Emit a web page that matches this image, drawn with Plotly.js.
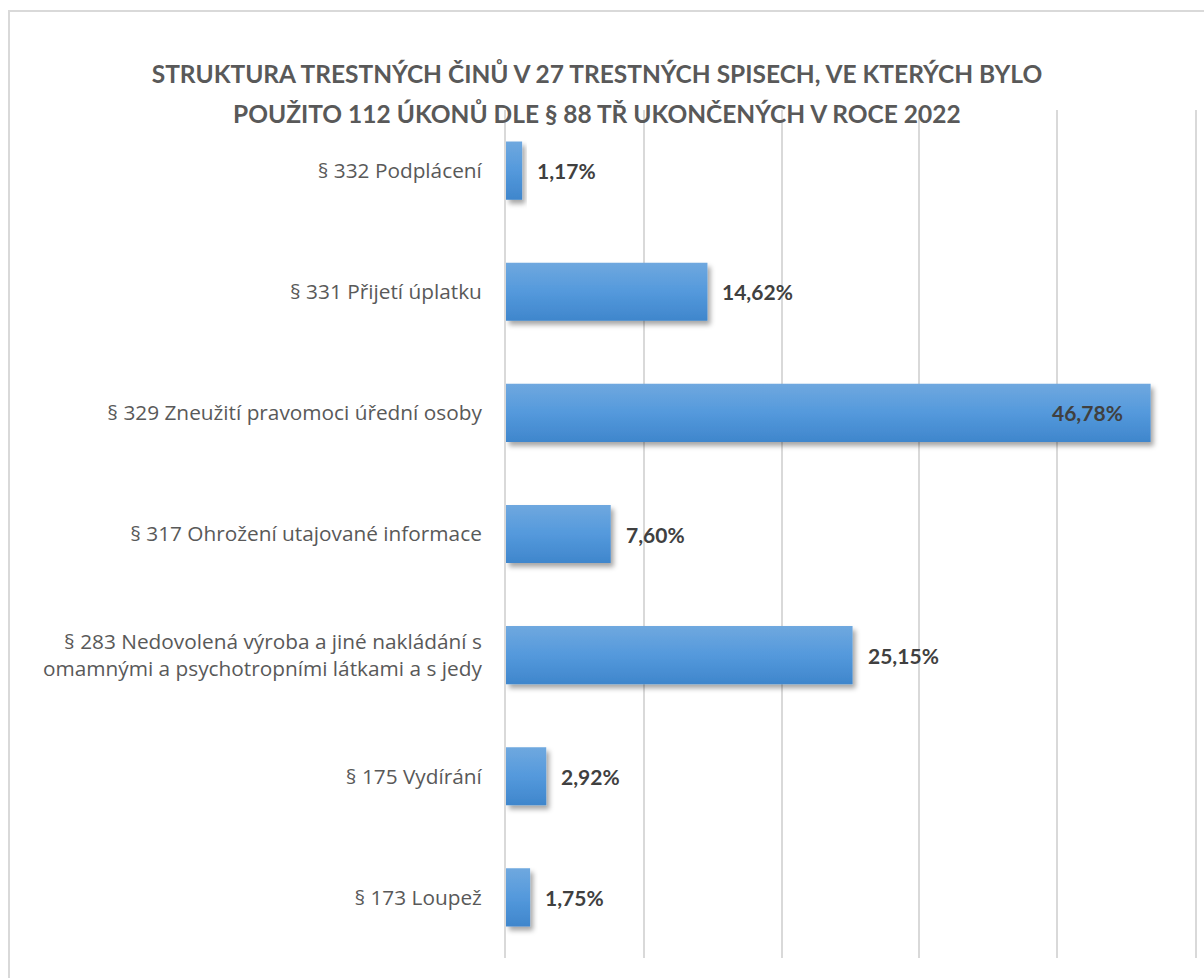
<!DOCTYPE html>
<html>
<head>
<meta charset="utf-8">
<script src="https://cdn.plot.ly/plotly-3.0.1.min.js"></script>
<style>
  html, body { margin: 0; padding: 0; background: #ffffff; overflow: hidden; }
  #frame { position: absolute; left: 8px; top: 10px; width: 1300px; height: 1100px; border: 2px solid #d9d9d9; box-sizing: border-box; }
  #chart { position: absolute; left: 0; top: 0; width: 1204px; height: 978px; }
</style>
</head>
<body>
<div id="frame"></div>
<div id="chart"></div>
<script>
const titleLine1 = 'STRUKTURA TRESTNÝCH ČINŮ V 27 TRESTNÝCH SPISECH, VE KTERÝCH BYLO';
const titleLine2 = 'POUŽITO 112 ÚKONŮ DLE § 88 TŘ UKONČENÝCH V ROCE 2022';

const categories = [
  '§ 332 Podplácení',
  '§ 331 Přijetí úplatku',
  '§ 329 Zneužití pravomoci úřední osoby',
  '§ 317 Ohrožení utajované informace',
  '§ 283 Nedovolená výroba a jiné nakládání s<br>omamnými a psychotropními látkami a s jedy',
  '§ 175 Vydírání',
  '§ 173 Loupež'
];
const shares = [1.17, 14.62, 46.78, 7.60, 25.15, 2.92, 1.75];

const fmt = v => v.toFixed(2).replace('.', ',') + '%';

const W = 1204, H = 978;
const M = { l: 506, r: 9, t: 110, b: 20 };
const plotW = W - M.l - M.r, plotH = H - M.t - M.b;

const trace = {
  type: 'bar',
  orientation: 'h',
  y: categories,
  x: shares,
  width: 0.48,
  marker: { color: '#5499dc' },
  hoverinfo: 'skip'
};

const labelFont = { family: 'Lato, "Open Sans", sans-serif', size: 21, color: '#404040' };
const annotations = shares.map((v, i) => {
  const inside = v > 40;
  return {
    x: v, y: categories[i], xref: 'x', yref: 'y',
    text: '<b>' + fmt(v) + '</b>',
    showarrow: false,
    xanchor: inside ? 'right' : 'left',
    xshift: inside ? -26 : 13,
    font: labelFont
  };
});
annotations.push({
  text: '<b>' + titleLine2 + '</b>',
  xref: 'paper', yref: 'paper',
  x: (597 - M.l) / plotW, y: 1 + (M.t - 113) / plotH,
  xanchor: 'center', yanchor: 'middle',
  showarrow: false,
  font: { family: 'Lato, "Open Sans", sans-serif', size: 24.5, color: '#595959' }
});

const layout = {
  width: W, height: H,
  paper_bgcolor: 'rgba(0,0,0,0)',
  plot_bgcolor: 'rgba(0,0,0,0)',
  margin: M,
  title: {
    text: '<b>' + titleLine1 + '</b>',
    x: 597 / W, xref: 'container', xanchor: 'center',
    y: 1 - 74 / H, yref: 'container', yanchor: 'middle',
    font: { family: 'Lato, "Open Sans", sans-serif', size: 24.5, color: '#595959' }
  },
  xaxis: {
    range: [0, 50], dtick: 10, tick0: 0,
    showgrid: true, gridcolor: '#d9d9d9', gridwidth: 2,
    zeroline: false, showticklabels: false, showline: false, ticks: '', fixedrange: true
  },
  yaxis: {
    autorange: 'reversed',
    showgrid: false, zeroline: false,
    showline: true, mirror: true, linecolor: '#d9d9d9', linewidth: 2,
    ticks: '',
    ticklabelstandoff: 18,
    tickfont: { family: '"Open Sans", Lato, sans-serif', size: 20.8, color: '#595959' },
    fixedrange: true
  },
  annotations: annotations,
  showlegend: false,
  bargap: 0.52
};

Plotly.newPlot('chart', [trace], layout, { displayModeBar: false, staticPlot: true }).then(gd => {
  const svg = gd.querySelector('svg.main-svg');
  const NS = 'http://www.w3.org/2000/svg';
  const defs = document.createElementNS(NS, 'defs');
  defs.innerHTML =
    '<linearGradient id="barGrad" x1="0" y1="0" x2="0" y2="1">' +
    '<stop offset="0%" stop-color="#6fa8df"/>' +
    '<stop offset="50%" stop-color="#5499dc"/>' +
    '<stop offset="100%" stop-color="#3f86cc"/>' +
    '</linearGradient>' +
    '<filter id="barShadow" x="-20%" y="-20%" width="150%" height="160%">' +
    '<feDropShadow dx="3" dy="4" stdDeviation="2.5" flood-color="#000" flood-opacity="0.35"/>' +
    '</filter>';
  svg.insertBefore(defs, svg.firstChild);
  gd.querySelectorAll('.barlayer .point path').forEach(p => {
    p.style.fill = 'url(#barGrad)';
    p.setAttribute('filter', 'url(#barShadow)');
  });
});
</script>
</body>
</html>
